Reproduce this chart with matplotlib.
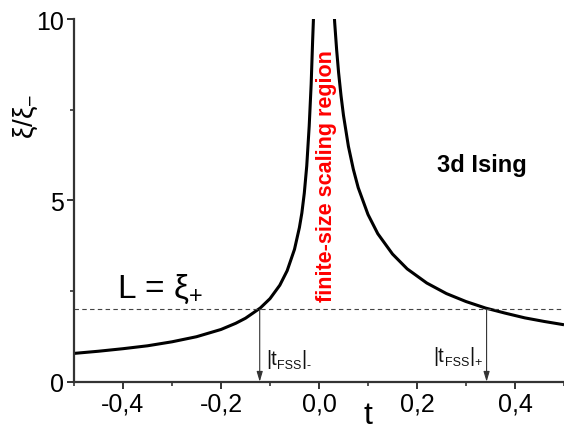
import matplotlib
matplotlib.use("Agg")
import matplotlib.pyplot as plt
from matplotlib.ticker import FixedLocator, MultipleLocator
from matplotlib.transforms import offset_copy

plt.rcParams['font.family'] = ['Liberation Sans', 'DejaVu Sans']
plt.rcParams['mathtext.fontset'] = 'custom'
plt.rcParams['mathtext.rm'] = 'Liberation Sans'
plt.rcParams['mathtext.it'] = 'Liberation Sans'
plt.rcParams['mathtext.bf'] = 'Liberation Sans:bold'

# Data
t_minus = [-0.50, -0.45, -0.40, -0.35, -0.30, -0.25, -0.20, -0.17, -0.15, -0.12,
           -0.10, -0.08, -0.065, -0.05, -0.04, -0.035, -0.03, -0.025, -0.02,
           -0.016, -0.013, -0.0105]
xi_minus = [0.78, 0.84, 0.91, 0.99, 1.10, 1.24, 1.44, 1.61, 1.75, 2.03,
            2.29, 2.66, 3.06, 3.65, 4.25, 4.65, 5.20, 5.95, 7.05,
            8.20, 9.40, 10.3]
t_plus = [0.029, 0.032, 0.036, 0.040, 0.045, 0.050, 0.060, 0.070, 0.080, 0.100,
          0.120, 0.150, 0.180, 0.220, 0.260, 0.300, 0.340, 0.380, 0.420, 0.460, 0.500]
xi_plus = [10.6, 9.90, 9.15, 8.52, 7.88, 7.34, 6.49, 5.86, 5.35, 4.61,
           4.08, 3.52, 3.11, 2.72, 2.43, 2.21, 2.03, 1.89, 1.76, 1.66, 1.57]
L_level = 2.0
t_fss_minus = -0.121
t_fss_plus = 0.342

x_ticks = [-0.4, -0.2, 0.0, 0.2, 0.4]
x_tick_labels = ['-0,4', '-0,2', '0,0', '0,2', '0,4']
y_ticks = [0, 5, 10]
y_tick_labels = ['0', '5', '10']

fig = plt.figure(figsize=(5.64, 4.31), dpi=100)
ax = fig.add_axes([74/564, 48.3/431, 1 - 74/564, 362.7/431])

ax.plot(t_minus, xi_minus, color='black', lw=2.2, solid_capstyle='butt')
ax.plot(t_plus, xi_plus, color='black', lw=2.2, solid_capstyle='butt')
ax.axhline(L_level, color='#444444', lw=0.8, ls=(0, (4, 3)))

for tf in (t_fss_minus, t_fss_plus):
    ax.annotate('', xy=(tf, 0.0), xytext=(tf, L_level),
                arrowprops=dict(arrowstyle='-|>,head_length=0.6,head_width=0.18',
                                color='#333333', lw=0.8, shrinkA=0, shrinkB=0))

ax.set_xlim(-0.5, 0.5)
ax.set_ylim(0, 10)
ax.xaxis.set_major_locator(FixedLocator(x_ticks))
ax.set_xticklabels(x_tick_labels)
ax.xaxis.set_minor_locator(MultipleLocator(0.1))
ax.yaxis.set_major_locator(FixedLocator(y_ticks))
ax.set_yticklabels(y_tick_labels)
ax.yaxis.set_minor_locator(MultipleLocator(2.5))

for s in ('top', 'right'):
    ax.spines[s].set_visible(False)
for s in ('left', 'bottom'):
    ax.spines[s].set_linewidth(1.6)
    ax.spines[s].set_color('#333333')
ax.tick_params(which='major', direction='out', length=5, width=1.4, color='#333333',
               labelsize=18, pad=2)
ax.tick_params(which='minor', direction='out', length=3, width=1.2, color='#333333')

fig.text(26/564, 1 - 116/431, r'$\xi/\xi_{-}$', rotation=90, fontsize=20,
         ha='center', va='center')
fig.text(368/564, 1 - 416/431, 't', fontsize=23, ha='center', va='center')

ax.text(-0.412, 2.34, r'L = $\xi_{+}$', fontsize=24, ha='left', va='baseline')
ax.text(0.24, 6.0, '3d Ising', fontsize=17, fontweight='bold', ha='left', va='center')
ax.text(0.016, 5.71, 'finite-size scaling region', fontsize=15.5, fontweight='bold',
        color='red', rotation=90, ha='center', va='center')

renderer = fig.canvas.get_renderer()


def chained_label(x, y, sign):
    pieces = [('|t', 14.5, 0), ('FSS', 9, -4), ('|', 14.5, 0), (sign, 9, -4)]
    dx = 0.0
    for txt, size, dy in pieces:
        tr = offset_copy(ax.transData, fig=fig, x=dx, y=dy, units='dots')
        t = ax.text(x, y, txt, fontsize=size, ha='left', va='baseline',
                    color='#111111', transform=tr)
        bb = t.get_window_extent(renderer=renderer)
        dx += bb.width + 0.2


chained_label(-0.108, 0.49, '-')
chained_label(0.234, 0.57, '+')

fig.savefig('out.png', dpi=100)
